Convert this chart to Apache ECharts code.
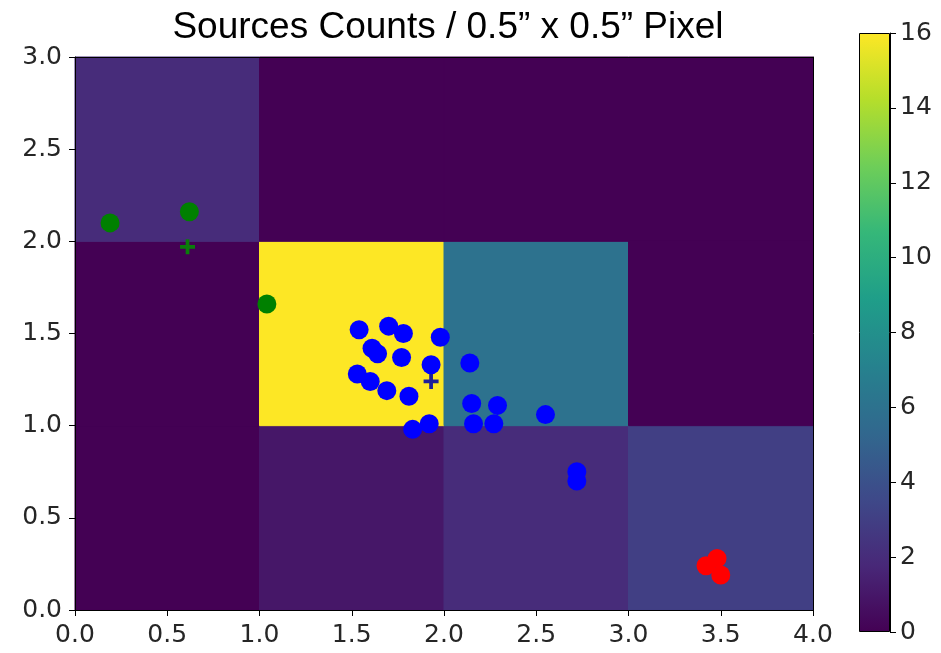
<!DOCTYPE html>
<html>
<head>
<meta charset="utf-8">
<script src="https://cdn.jsdelivr.net/npm/echarts@6/dist/echarts.min.js"></script>
<style>html,body{margin:0;padding:0;background:#fff}#c{width:941px;height:653px}</style>
</head>
<body>
<div id="c"></div>
<script>
// ---- data ----
const titleText = 'Sources Counts / 0.5\u201D x 0.5\u201D Pixel';
const cellCols = [0, 1, 2, 3];
const cellRows = [0, 1, 2];
const countsRow0 = [0, 1, 2, 3];   // y 0-1
const countsRow1 = [0, 16, 6, 0];  // y 1-2
const countsRow2 = [2, 0, 0, 0];   // y 2-3
const blueX = [1.54, 1.70, 1.78, 1.98, 1.61, 1.64, 1.77, 1.93, 1.53, 1.60, 1.69, 1.81, 1.92, 1.83, 2.14, 2.15, 2.29, 2.16, 2.27, 2.55, 2.72, 2.72];
const blueY = [1.52, 1.54, 1.50, 1.48, 1.42, 1.39, 1.37, 1.33, 1.28, 1.24, 1.19, 1.16, 1.01, 0.98, 1.34, 1.12, 1.11, 1.01, 1.01, 1.06, 0.75, 0.70];
const greenX = [0.19, 0.62, 1.04];
const greenY = [2.10, 2.16, 1.66];
const redX = [3.42, 3.48, 3.50];
const redY = [0.24, 0.28, 0.19];
const greenPlusX = [0.61];
const greenPlusY = [1.97];
const bluePlusX = [1.93];
const bluePlusY = [1.24];
const xTicks = [0, 0.5, 1, 1.5, 2, 2.5, 3, 3.5, 4];
const yTicks = [0, 0.5, 1, 1.5, 2, 2.5, 3];
const cbMin = 0, cbMax = 16, cbStep = 2;
const viridis = ['#440154','#482878','#3e4989','#31688e','#26828e','#1f9e89','#35b779','#6ece58','#b5de2b','#fde725'];

// ---- build ----
const countsRows = [countsRow0, countsRow1, countsRow2];
const cells = [];
cellRows.forEach(r => cellCols.forEach(c => cells.push([c, r, countsRows[r][c]])));
const zip = (xs, ys) => xs.map((x, i) => [x, ys[i]]);
const plusPath = 'path://M6,0H10V6H16V10H10V16H6V10H0V6H6Z';
const FONT = 'DejaVu Sans';
const axisCommon = {
  z: 10,
  axisLine: { show: true, onZero: false, lineStyle: { color: '#000', width: 1 } },
  axisTick: { show: true, inside: false, length: 6, lineStyle: { color: '#000' } },
  splitLine: { show: false },
  axisLabel: { color: '#262626', fontFamily: FONT, fontSize: 25, margin: 13, formatter: v => v.toFixed(1) }
};
const spine = { z: 10, axisLine: { show: true, onZero: false, lineStyle: { color: '#000' } }, axisTick: { show: false }, axisLabel: { show: false }, splitLine: { show: false } };

const option = {
  animation: false,
  backgroundColor: '#fff',
  title: {
    text: titleText, left: 443, top: 4, textAlign: 'center',
    textStyle: { fontFamily: 'Liberation Sans', fontSize: 37, fontWeight: 'normal', color: '#000' }
  },
  grid: [
    { left: 75, right: 128, top: 57, bottom: 43 },
    { left: 859, width: 31, top: 33, bottom: 21 }
  ],
  xAxis: [
    Object.assign({ type: 'value', gridIndex: 0, min: xTicks[0], max: xTicks[xTicks.length - 1], interval: 0.5, position: 'bottom' }, axisCommon),
    Object.assign({ type: 'value', gridIndex: 0, min: 0, max: 4, position: 'top' }, spine),
    { type: 'category', gridIndex: 1, data: ['cb'], show: false, boundaryGap: true }
  ],
  yAxis: [
    Object.assign({ type: 'value', gridIndex: 0, min: yTicks[0], max: yTicks[yTicks.length - 1], interval: 0.5, position: 'left' }, axisCommon),
    Object.assign({ type: 'value', gridIndex: 0, min: 0, max: 3, position: 'right' }, spine),
    {
      type: 'value', gridIndex: 1, min: cbMin, max: cbMax, interval: cbStep, position: 'right', z: 10,
      axisLine: { show: true, lineStyle: { color: '#000' } },
      axisTick: { show: true, inside: false, length: 6, lineStyle: { color: '#000' } },
      splitLine: { show: false },
      axisLabel: { color: '#262626', fontFamily: FONT, fontSize: 25, margin: 10 }
    }
  ],
  visualMap: {
    type: 'continuous', show: false, min: cbMin, max: cbMax, dimension: 2, seriesIndex: 0,
    inRange: { color: viridis }
  },
  series: [
    {
      type: 'custom', xAxisIndex: 0, yAxisIndex: 0, data: cells, z: 1,
      encode: { x: 0, y: 1 },
      renderItem: function (params, api) {
        const p0 = api.coord([api.value(0), api.value(1) + 1]);
        const p1 = api.coord([api.value(0) + 1, api.value(1)]);
        const col = api.visual('color');
        return { type: 'rect', shape: { x: p0[0], y: p0[1], width: p1[0] - p0[0], height: p1[1] - p0[1] }, style: { fill: col, stroke: col, lineWidth: 1 } };
      }
    },
    { type: 'scatter', xAxisIndex: 0, yAxisIndex: 0, data: zip(greenX, greenY), symbol: 'circle', symbolSize: 19, itemStyle: { color: '#008000', opacity: 1 }, z: 3 },
    { type: 'scatter', xAxisIndex: 0, yAxisIndex: 0, data: zip(blueX, blueY), symbol: 'circle', symbolSize: 19, itemStyle: { color: '#0000ff', opacity: 1 }, z: 3 },
    { type: 'scatter', xAxisIndex: 0, yAxisIndex: 0, data: zip(redX, redY), symbol: 'circle', symbolSize: 19, itemStyle: { color: '#ff0000', opacity: 1 }, z: 3 },
    { type: 'scatter', xAxisIndex: 0, yAxisIndex: 0, data: zip(greenPlusX, greenPlusY), symbol: plusPath, symbolSize: 15, itemStyle: { color: '#0b7d0b', opacity: 1 }, z: 4 },
    { type: 'scatter', xAxisIndex: 0, yAxisIndex: 0, data: zip(bluePlusX, bluePlusY), symbol: plusPath, symbolSize: 15, itemStyle: { color: '#1f1f99', opacity: 1 }, z: 4 },
    {
      type: 'bar', xAxisIndex: 2, yAxisIndex: 2, data: [cbMax], barWidth: '100%', z: 2,
      itemStyle: {
        borderColor: '#000', borderWidth: 1,
        color: { type: 'linear', x: 0, y: 1, x2: 0, y2: 0, colorStops: viridis.map((c, i) => ({ offset: i / (viridis.length - 1), color: c })) }
      }
    }
  ]
};
const chart = echarts.init(document.getElementById('c'), null, { renderer: 'canvas' });
chart.setOption(option);
</script>
</body>
</html>
